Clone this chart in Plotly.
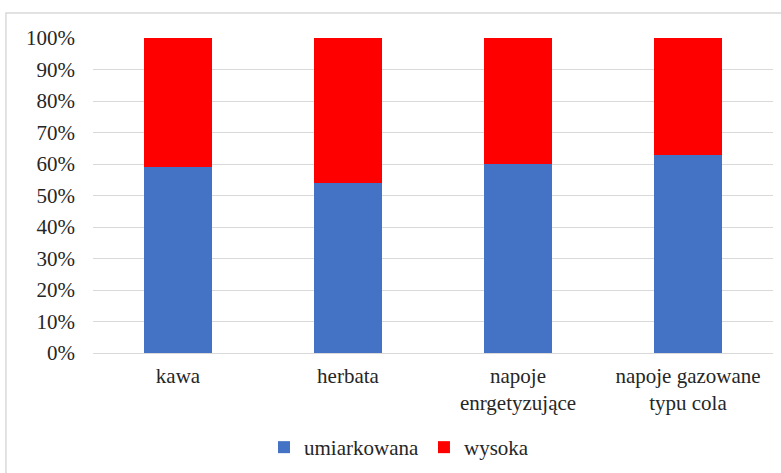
import plotly.graph_objects as go

categories = ["kawa", "herbata", "napoje<br>enrgetyzujące", "napoje gazowane<br>typu cola"]
umiarkowana = [59, 54, 60, 63]
wysoka = [41, 46, 40, 37]
tick_vals = [0, 10, 20, 30, 40, 50, 60, 70, 80, 90, 100]
tick_text = [f"{v}%" for v in tick_vals]

font = dict(family="Liberation Serif", size=21, color="#262626")

fig = go.Figure()
fig.add_trace(go.Bar(name="umiarkowana", x=categories, y=umiarkowana,
                     marker=dict(color="#4472C4", line=dict(width=0))))
fig.add_trace(go.Bar(name="wysoka", x=categories, y=wysoka,
                     marker=dict(color="#FF0000", line=dict(width=0))))

fig.update_layout(
    barmode="stack",
    bargap=0.605,
    width=781, height=473,
    margin=dict(l=93, r=8, t=38, b=120, autoexpand=False),
    paper_bgcolor="white", plot_bgcolor="white",
    font=font,
    showlegend=True,
    legend=dict(orientation="h", x=0.45, xanchor="center", y=-0.30, yanchor="middle",
                font=font, itemwidth=30, traceorder="normal"),
    xaxis=dict(showgrid=False, showline=False, ticks="", tickfont=font,
               ticklabelstandoff=8, automargin=False),
    yaxis=dict(range=[0, 100], tickvals=tick_vals, ticktext=tick_text,
               showgrid=True, gridcolor="#d9d9d9", gridwidth=1,
               zeroline=True, zerolinecolor="#d9d9d9", zerolinewidth=1,
               ticks="", tickfont=font, ticklabelstandoff=17, automargin=False),
)

# outer chart frame
fig.add_shape(type="rect", xref="paper", yref="paper",
              x0=-0.128, x1=1.02, y0=-0.42, y1=1.079,
              line=dict(color="#d9d9d9", width=1.5), fillcolor="rgba(0,0,0,0)", layer="below")

fig.write_html("out.html")
